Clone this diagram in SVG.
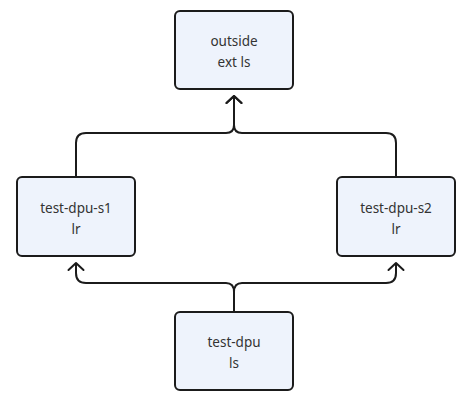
<svg xmlns="http://www.w3.org/2000/svg" width="470" height="405" viewBox="0 0 470 405">
<style>
.box{fill:#eef3fc;stroke:#1b1b1b;stroke-width:2}
.lbl{font-family:"Noto Sans","Open Sans",sans-serif;font-size:13.5px;fill:#333;text-anchor:middle}
.edge{fill:none;stroke:#1b1b1b;stroke-width:2;stroke-linejoin:round}
</style>
<defs>
<marker id="arr" markerUnits="userSpaceOnUse" markerWidth="20" markerHeight="20" viewBox="-10 -10 20 20" refX="0" refY="0" orient="auto">
<path d="M-7,-7.5 L0,0 L-7,7.5" fill="none" stroke="#1b1b1b" stroke-width="2" stroke-linecap="round" stroke-linejoin="round"/>
</marker>
</defs>
<rect width="470" height="405" fill="#ffffff"/>
<g id="connectors">
<path class="edge" d="M76,177 V143 Q76,133 86,133 H226 Q234,133 234,125 V96" marker-end="url(#arr)"/>
<path class="edge" d="M396,177 V143 Q396,133 386,133 H242 Q234,133 234,125 V96" marker-end="url(#arr)"/>
<path class="edge" d="M234,312 V292 Q234,283 226,283 H86 Q76,283 76,273 V263" marker-end="url(#arr)"/>
<path class="edge" d="M234,312 V292 Q234,283 242,283 H386 Q396,283 396,273 V263" marker-end="url(#arr)"/>
</g>
<g id="outside-ext-ls">
<rect class="box" x="175" y="11" width="118" height="78" rx="5"/>
<text class="lbl" x="234" y="46">outside</text>
<text class="lbl" x="234" y="67">ext ls</text>
</g>
<g id="test-dpu-s1">
<rect class="box" x="17" y="177" width="118" height="79" rx="5"/>
<text class="lbl" x="76" y="213">test-dpu-s1</text>
<text class="lbl" x="76" y="234">lr</text>
</g>
<g id="test-dpu-s2">
<rect class="box" x="337" y="177" width="118" height="79" rx="5"/>
<text class="lbl" x="396" y="213">test-dpu-s2</text>
<text class="lbl" x="396" y="234">lr</text>
</g>
<g id="test-dpu-ls">
<rect class="box" x="175" y="312" width="118" height="78" rx="5"/>
<text class="lbl" x="234" y="347">test-dpu</text>
<text class="lbl" x="234" y="368">ls</text>
</g>
</svg>
